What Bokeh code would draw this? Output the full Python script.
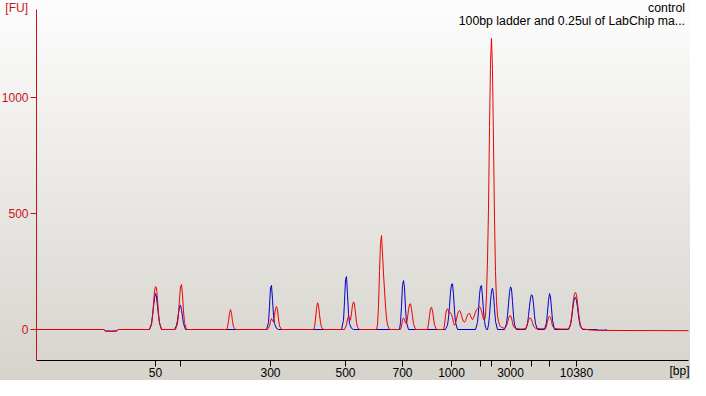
from bokeh.plotting import figure
from bokeh.models import Label, FixedTicker, Range1d
from bokeh.embed import file_html
from bokeh.resources import INLINE

# ---- data (migration time in s, fluorescence in FU) ----
blue_t = [20.0, 26.7, 26.9, 27.4, 28.0, 28.2,
          31.3, 31.5, 31.6, 31.7, 31.8, 31.9, 32.0, 32.1, 32.2, 32.3, 32.5,
          33.8, 34.0, 34.1, 34.2, 34.3, 34.4, 34.5, 34.6, 34.7, 34.9,
          43.0, 43.2, 43.3, 43.4, 43.5, 43.6, 43.7, 43.8, 44.0, 44.2,
          50.5, 50.7, 50.8, 50.9, 51.0, 51.1, 51.2, 51.3, 51.5, 51.7,
          56.3, 56.4, 56.5, 56.6, 56.7, 56.8, 56.9, 57.0, 57.2,
          60.9, 61.1, 61.2, 61.3, 61.4, 61.5, 61.6, 61.7, 61.8, 61.9, 62.1,
          63.9, 64.1, 64.2, 64.3, 64.4, 64.5, 64.6, 64.7, 64.8, 64.9, 65.0,
          65.1, 65.2, 65.3, 65.4, 65.5, 65.6, 65.7, 65.8, 65.9, 66.1,
          66.8, 67.0, 67.1, 67.2, 67.3, 67.4, 67.5, 67.6, 67.7, 67.8, 68.0,
          68.9, 69.1, 69.2, 69.3, 69.4, 69.5, 69.6, 69.7, 69.8, 69.9, 70.1,
          70.8, 71.0, 71.1, 71.2, 71.3, 71.4, 71.5, 71.6, 71.8,
          73.2, 73.4, 73.5, 73.6, 73.7, 73.8, 73.9, 74.0, 74.1, 74.2, 74.3, 74.4, 74.6,
          76.0, 76.2, 76.8, 77.0]
blue_fu = [0, 0, -6, -7, -6, 0,
           0, 27, 60, 98, 135, 155, 140, 100, 60, 27, 0,
           0, 18, 40, 70, 98, 105, 85, 55, 25, 0,
           0, 30, 100, 180, 190, 130, 60, 25, 5, 0,
           0, 40, 120, 215, 228, 150, 70, 25, 5, 0,
           0, 30, 100, 190, 211, 180, 90, 30, 0,
           0, 20, 50, 100, 160, 195, 197, 150, 80, 30, 0,
           0, 30, 80, 150, 185, 190, 140, 80, 35, 10, 0,
           0, 20, 60, 120, 165, 178, 150, 90, 35, 0,
           0, 25, 60, 110, 160, 184, 175, 120, 60, 20, 0,
           0, 25, 60, 100, 135, 150, 145, 110, 60, 25, 0,
           0, 30, 75, 125, 155, 140, 90, 40, 0,
           0, 20, 45, 80, 115, 135, 139, 125, 95, 60, 30, 12, 0,
           0, -3, -3, 0]

red_t = [20.0, 26.7, 26.9, 27.4, 28.0, 28.2,
         31.3, 31.5, 31.6, 31.7, 31.8, 31.9, 32.0, 32.1, 32.2, 32.3, 32.5,
         33.9, 34.1, 34.2, 34.3, 34.4, 34.5, 34.6, 34.7, 34.8, 35.0,
         39.0, 39.1, 39.2, 39.3, 39.4, 39.5, 39.6, 39.7, 39.9,
         43.1, 43.3, 43.4, 43.5, 43.6, 43.7, 43.8, 43.9, 44.0, 44.1, 44.2, 44.3, 44.5,
         47.7, 47.8, 47.9, 48.0, 48.1, 48.2, 48.3, 48.4, 48.5, 48.7,
         50.8, 51.0, 51.1, 51.2, 51.3, 51.4, 51.5, 51.6, 51.7, 51.8, 51.9, 52.0, 52.1, 52.3,
         54.0, 54.1, 54.2, 54.3, 54.4, 54.5, 54.6, 54.7, 54.8, 54.9, 55.0, 55.1, 55.3,
         56.4, 56.5, 56.6, 56.7, 56.8, 56.9, 57.0, 57.1, 57.2, 57.3, 57.4, 57.5, 57.6, 57.7, 57.9,
         59.1, 59.2, 59.3, 59.4, 59.5, 59.6, 59.7, 59.8, 60.0,
         60.7, 60.8, 60.9, 61.0, 61.1, 61.2, 61.3, 61.4, 61.5, 61.6, 61.7, 61.8, 61.9,
         62.0, 62.1, 62.2, 62.3, 62.4, 62.5, 62.6, 62.7, 62.8, 62.9,
         63.0, 63.1, 63.2, 63.3, 63.4, 63.5, 63.6, 63.7, 63.8, 63.9,
         64.0, 64.1, 64.2, 64.3, 64.4, 64.5, 64.6, 64.7, 64.8,
         64.9, 65.0, 65.1, 65.2, 65.3, 65.4, 65.5, 65.6, 65.7, 65.8, 65.9,
         66.0, 66.1, 66.2, 66.3, 66.4, 66.6, 66.8,
         67.0, 67.1, 67.2, 67.3, 67.4, 67.5, 67.6, 67.7, 67.9, 68.4,
         68.9, 69.0, 69.1, 69.2, 69.3, 69.4, 69.5, 69.6, 69.7, 69.9, 70.4,
         70.9, 71.0, 71.1, 71.2, 71.3, 71.4, 71.5, 71.6, 71.8, 72.4,
         73.2, 73.3, 73.4, 73.5, 73.6, 73.7, 73.8, 73.9, 74.0, 74.1, 74.2, 74.3, 74.4, 74.5, 74.7,
         75.4, 76.4, 85.2]
red_fu = [0, 0, -7, -8, -7, 0,
          0, 20, 55, 110, 165, 185, 180, 130, 70, 30, 0,
          0, 25, 70, 130, 185, 194, 150, 80, 30, 0,
          0, 10, 35, 70, 86, 70, 35, 12, 0,
          0, 15, 35, 47, 38, 32, 60, 90, 99, 85, 45, 15, 0,
          0, 10, 45, 90, 115, 105, 65, 30, 10, 0,
          0, 20, 45, 56, 48, 40, 70, 105, 119, 110, 70, 30, 10, 0,
          0, 20, 100, 250, 370, 405, 330, 240, 170, 100, 50, 20, 0,
          0, 15, 40, 50, 42, 28, 25, 50, 85, 108, 111, 90, 55, 25, 0,
          0, 25, 60, 90, 96, 80, 50, 20, 0,
          0, 20, 60, 85, 89, 80, 70, 72, 65, 50, 30, 18, 25,
          45, 65, 78, 82, 75, 60, 45, 35, 31, 38,
          50, 62, 68, 70, 60, 48, 42, 50, 62, 75,
          85, 90, 95, 99, 92, 80, 60, 45, 40,
          60, 150, 300, 520, 870, 1150, 1255, 1120, 800, 480, 250,
          120, 60, 35, 20, 12, 8, 5,
          15, 30, 48, 58, 60, 50, 30, 12, 4, 2,
          3, 10, 25, 40, 48, 49, 42, 30, 15, 5, 3,
          3, 15, 35, 52, 58, 52, 35, 15, 4, 2,
          2, 10, 25, 50, 90, 130, 155, 160, 150, 115, 75, 40, 20, 8, 2,
          -2, -4, -5]

tick_t = [31.9, 34.4, 43.4, 50.9, 56.6, 61.5, 64.4, 65.5, 67.4, 69.5, 71.3, 74.0]
tick_bp = ["50", "", "300", "500", "700", "1000", "", "", "3000", "", "", "10380"]
fu_ticks = [0, 500, 1000]
legend_lines = ["control", "100bp ladder and 0.25ul of LabChip ma..."]

T_START, T_END = 20.0, 85.2        # extent of the time axis
FU_MIN, FU_MAX = -133.6, 1379.3    # extent of the FU axis

FONT = "Liberation Sans"
AXIS_RED = "#c81414"

p = figure(width=690, height=380, output_backend="svg", toolbar_location=None,
           x_range=Range1d(16.4, 85.4), y_range=Range1d(-219.8, 1418.1),
           min_border=0)
p.grid.visible = False
p.outline_line_color = None
p.background_fill_alpha = 0
p.border_fill_alpha = 0
p.styles = {"background": "linear-gradient(to bottom, #fdfdfd, #d6d3cd)"}

xa = p.xaxis[0]
xa.fixed_location = FU_MIN
xa.bounds = (T_START, T_END)
xa.ticker = FixedTicker(ticks=tick_t)
xa.major_label_overrides = dict(zip(tick_t, tick_bp))
xa.minor_tick_line_color = None
xa.major_tick_in = 0
xa.major_tick_out = 6
xa.axis_line_color = "#000000"
xa.major_tick_line_color = "#000000"
xa.major_label_text_font = FONT
xa.major_label_text_font_size = "12px"
xa.major_label_text_color = "#000000"
xa.major_label_standoff = 1

ya = p.yaxis[0]
ya.fixed_location = T_START
ya.bounds = (FU_MIN, FU_MAX)
ya.ticker = FixedTicker(ticks=fu_ticks)
ya.minor_tick_line_color = None
ya.major_tick_in = 0
ya.major_tick_out = 6
ya.axis_line_color = AXIS_RED
ya.major_tick_line_color = AXIS_RED
ya.major_label_text_font = FONT
ya.major_label_text_font_size = "12px"
ya.major_label_text_color = AXIS_RED
ya.major_label_standoff = 2

p.line(blue_t, blue_fu, line_color="#0000cc", line_width=1)
p.line(red_t, red_fu, line_color="#ee0000", line_width=1)

p.add_layout(Label(x=19.15, y=1418, text="[FU]", text_align="right", text_baseline="top",
                   text_font=FONT, text_font_size="12px", text_color=AXIS_RED))
p.add_layout(Label(x=85.3, y=-149, text="[bp]", text_align="right", text_baseline="top",
                   text_font=FONT, text_font_size="12px", text_color="#000000"))
p.add_layout(Label(x=84.85, y=1418, text=legend_lines[0], text_align="right", text_baseline="top",
                   text_font=FONT, text_font_size="12.3px", text_color="#000000"))
p.add_layout(Label(x=84.85, y=1362, text=legend_lines[1], text_align="right", text_baseline="top",
                   text_font=FONT, text_font_size="12.3px", text_color="#000000"))

open("out.html", "w").write(file_html(p, INLINE))
